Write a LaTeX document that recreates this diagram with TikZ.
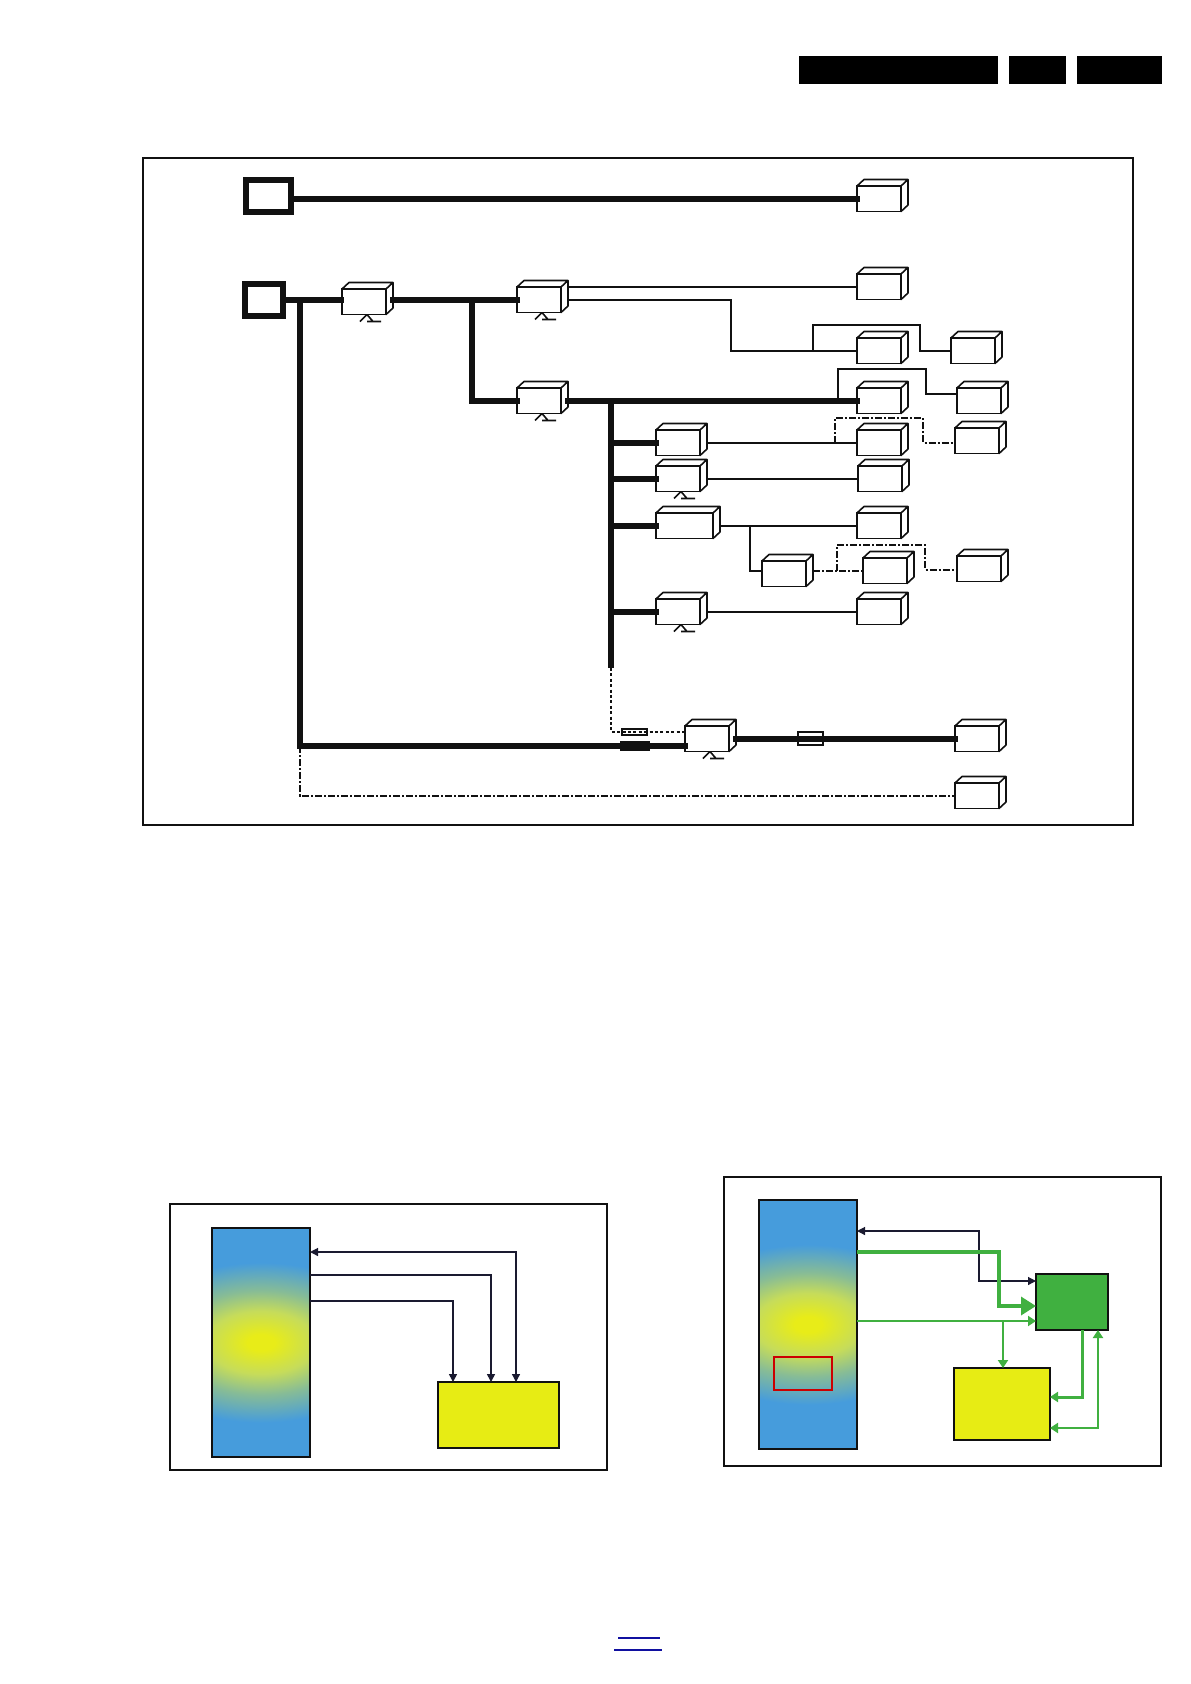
\documentclass[tikz,border=0pt]{standalone}
\usepackage{amsmath}
\usepackage{amssymb}
\usetikzlibrary{arrows.meta,positioning,shapes.geometric}
\definecolor{inkblk}{HTML}{111111}
\definecolor{barblue}{RGB}{70,156,220}
\definecolor{barcore}{RGB}{232,236,24}
\definecolor{barinner}{RGB}{198,220,90}
\definecolor{barouter}{RGB}{135,188,150}
\definecolor{padyellow}{RGB}{231,236,20}
\definecolor{padgreen}{RGB}{64,176,64}
\definecolor{navyline}{RGB}{26,26,48}
\definecolor{linkblue}{RGB}{16,16,160}
\pgfdeclareradialshading{barglow}{\pgfpoint{0bp}{0bp}}{%
  color(0bp)=(barcore);
  color(1.6bp)=(barcore);
  color(6.3bp)=(barinner);
  color(10.4bp)=(barouter);
  color(16bp)=(barblue);
  color(50bp)=(barblue)}
\begin{document}
\begin{tikzpicture}[
    x=1pt, y=-1pt,
    panel/.style={rectangle, draw=inkblk, line width=1.7pt, inner sep=0pt, outer sep=0pt, anchor=north west},
    cube/.style={rectangle, draw=inkblk, fill=white, line width=1.6pt, inner sep=0pt, outer sep=0pt, anchor=north west, minimum width=44pt, minimum height=25.5pt,
      append after command={\pgfextra{\draw[draw=inkblk, fill=white, line width=1.6pt, line join=round]
        (\tikzlastnode.north west) -- ([shift={(7pt,6.5pt)}]\tikzlastnode.north west) -- ([shift={(7pt,6.5pt)}]\tikzlastnode.north east)
        -- ([shift={(7pt,6.5pt)}]\tikzlastnode.south east) -- (\tikzlastnode.south east) -- (\tikzlastnode.north east) -- cycle
        (\tikzlastnode.north east) -- ([shift={(7pt,6.5pt)}]\tikzlastnode.north east);}}},
    tuner/.style={cube,
      append after command={\pgfextra{\draw[draw=inkblk, line width=1.6pt]
        ([shift={(18pt,-7pt)}]\tikzlastnode.south west) -- ([xshift=25pt]\tikzlastnode.south west) -- ([shift={(31pt,-7pt)}]\tikzlastnode.south west)
        ([shift={(25pt,-7pt)}]\tikzlastnode.south west) -- ([shift={(39pt,-7pt)}]\tikzlastnode.south west);}}},
    srcbox/.style={rectangle, draw=inkblk, fill=white, line width=6pt, inner sep=0pt, outer sep=0pt, anchor=north west},
    clipbox/.style={rectangle, draw=inkblk, line width=1.4pt, inner sep=0pt, outer sep=0pt},
    hdr/.style={rectangle, fill=black, inner sep=0pt, outer sep=0pt, anchor=north west, minimum height=28pt},
    bar/.style={rectangle, draw=inkblk, line width=2.6pt, fill=barblue, inner sep=0pt, outer sep=0pt, anchor=north west, minimum width=98pt,
      path picture={\shade[shading=barglow] (path picture bounding box.center) ellipse [x radius=215, y radius=125];}},
    pad/.style={rectangle, draw=inkblk, line width=2pt, inner sep=0pt, outer sep=0pt, anchor=north west},
    bus/.style={draw=inkblk, line width=5.8pt},
    wire/.style={draw=inkblk, line width=1.6pt},
    dashwire/.style={draw=inkblk, line width=1.5pt, dash pattern=on 7pt off 2pt on 2pt off 2pt},
    dotwire/.style={draw=inkblk, line width=1.4pt, dash pattern=on 3pt off 2.4pt},
    blacksig/.style={draw=navyline, line width=1.6pt},
    greensig/.style={draw=padgreen, line width=2.2pt},
    tip/.style={-{Triangle[length=8pt, width=8pt]}},
    twotip/.style={{Triangle[length=8pt, width=8pt]}-{Triangle[length=8pt, width=8pt]}}
]
\useasboundingbox (0,0) rectangle (1191,1684);

\node[hdr, minimum width=199pt] (hdra) at (799,56) {};
\node[hdr, minimum width=57pt] (hdrb) at (1009,56) {};
\node[hdr, minimum width=85pt] (hdrc) at (1077,56) {};

\node[panel, minimum width=990pt, minimum height=667pt] (frametop) at (143,158) {};
\node[srcbox, minimum width=45pt, minimum height=32pt] (srca) at (246,180) {};
\node[srcbox, minimum width=38pt, minimum height=32pt] (srcb) at (245,284) {};
\node[tuner] (tuna) at (342,289) {};
\node[tuner] (tunb) at (517,287) {};
\node[tuner] (tunc) at (517,388) {};
\node[tuner] (tund) at (685,726) {};
\node[cube] (enda) at (857,186) {};
\node[cube] (endb) at (857,274) {};
\node[cube] (endc) at (857,338) {};
\node[cube] (endd) at (951,338) {};
\node[cube] (ende) at (857,388) {};
\node[cube] (endf) at (957,388) {};
\node[cube] (endg) at (857,430) {};
\node[cube] (endh) at (955,428) {};
\node[cube] (suba) at (656,430) {};
\node[tuner] (subb) at (656,466) {};
\node[cube] (endj) at (858,466) {};
\node[cube, minimum width=57pt] (subc) at (656,513) {};
\node[cube] (endk) at (857,513) {};
\node[cube] (midl) at (762,561) {};
\node[cube] (midm) at (863,558) {};
\node[cube] (endn) at (957,556) {};
\node[tuner] (subd) at (656,599) {};
\node[cube] (endp) at (857,599) {};
\node[cube] (endq) at (955,726) {};
\node[cube] (endr) at (955,783) {};

\coordinate (jroot) at (300,300);
\coordinate (mainbase) at (300,746);
\coordinate (jb) at (472,299.75);
\coordinate (bustop) at (611,400.75);
\coordinate (busbase) at (611,668);
\coordinate (bendc) at (731,350.75);
\coordinate (jc) at (813,350.75);
\coordinate (railc) at (920,325);
\coordinate (jd) at (838,400.75);
\coordinate (raild) at (926,369);
\coordinate (je) at (835,442.75);
\coordinate (raile) at (923,418);
\coordinate (jf) at (750,525.75);
\coordinate (jg) at (837,570.75);
\coordinate (railg) at (925,545);

\draw[bus] (srca.east |- enda.west) -- ([xshift=3pt]enda.west);
\draw[bus] (srcb.east) -- ([xshift=2pt]tuna.west |- srcb.east);
\draw[bus] (jroot) -- (mainbase) -- ([xshift=3pt]tund.west |- mainbase);
\draw[bus] ([xshift=4pt]tuna.east |- jb) -- ([xshift=3pt]tunb.west);
\draw[bus] (jb) |- ([xshift=3pt]tunc.west);
\draw[bus] ([xshift=4pt]tunc.east) -- ([xshift=3pt]ende.west);
\draw[bus] (bustop) -- (busbase);
\draw[bus] (bustop |- suba.west) -- ([xshift=3pt]suba.west);
\draw[bus] (bustop |- subb.west) -- ([xshift=3pt]subb.west);
\draw[bus] (bustop |- subc.west) -- ([xshift=3pt]subc.west);
\draw[bus] (bustop |- subd.west) -- ([xshift=3pt]subd.west);
\draw[bus] ([xshift=4pt]tund.east) -- ([xshift=3pt]endq.west);

\draw[wire] ([xshift=7pt]tunb.east |- endb.west) -- (endb.west);
\draw[wire] ([xshift=7pt]tunb.east) -| (bendc) -- (endc.west);
\draw[wire] (jc) |- (railc) |- (endd.west);
\draw[wire] (jd) |- (raild) |- ([yshift=6.75pt]endf.west);
\draw[wire] ([xshift=7pt]suba.east) -- (endg.west);
\draw[wire] ([xshift=7pt]subb.east) -- (endj.west);
\draw[wire] ([xshift=7pt]subc.east) -- (endk.west);
\draw[wire] (jf) |- ([yshift=2.5pt]midl.west);
\draw[wire] ([xshift=7pt]subd.east) -- (endp.west);
\draw[dashwire] (je) |- (raile) |- ([yshift=-2pt]endh.west);
\draw[dashwire] ([xshift=7pt]midl.east |- midm.west) -- (midm.west);
\draw[dashwire] (jg) |- (railg) |- ([yshift=-1pt]endn.west);
\draw[dashwire] (mainbase) |- (endr.west);

\node[clipbox, minimum width=25pt, minimum height=6pt] (clipa) at (634.5,732) {};
\node[clipbox, fill=inkblk, minimum width=28pt, minimum height=8pt] (clipb) at (635,746) {};
\node[clipbox, minimum width=25pt, minimum height=13pt] (clipc) at (810.5,738.5) {};
\draw[dotwire] (busbase) |- (clipa.center) -- (tund.west |- clipa.center);

\node[panel, minimum width=437pt, minimum height=266pt] (frameleft) at (170,1204) {};
\node[bar, minimum height=229pt] (barl) at (212,1228) {};
\node[pad, fill=padyellow, minimum width=121pt, minimum height=66pt] (pada) at (438,1382) {};
\coordinate (feeda) at (516,1252);
\coordinate (feedb) at (491,1275);
\coordinate (feedc) at (453,1301);
\draw[blacksig, line width=1.2pt, twotip] (barl.east |- feeda) -| (feeda |- pada.north);
\draw[blacksig, tip] (barl.east |- feedb) -| (feedb |- pada.north);
\draw[blacksig, tip] (barl.east |- feedc) -| (feedc |- pada.north);

\node[panel, line width=2pt, minimum width=437pt, minimum height=289pt] (frameright) at (724,1177) {};
\node[bar, minimum height=249pt] (barr) at (759,1200) {};
\node[rectangle, draw=red!80!black, line width=1.6pt, inner sep=0pt, anchor=north west, minimum width=58pt, minimum height=33pt] (redbox) at (773,1356) {};
\node[pad, fill=padgreen, minimum width=72pt, minimum height=56pt] (padc) at (1036,1274) {};
\node[pad, fill=padyellow, minimum width=96pt, minimum height=72pt] (padb) at (954,1368) {};
\coordinate (swa) at (979,1231);
\coordinate (swb) at (979,1281);
\coordinate (grna) at (999,1252);
\coordinate (grnb) at (999,1306);
\coordinate (grnc) at (1003,1321);
\coordinate (grnd) at (1082,1397);
\coordinate (grne) at (1098,1428);
\draw[blacksig, line width=1.2pt, twotip] (barr.east |- swa) -- (swa) -- (swb) -- (padc.west |- swb);
\draw[greensig, line width=3.4pt, -{Triangle[length=15pt, width=18pt]}] (barr.east |- grna) -- (grna) -- (grnb) -- (padc.west |- grnb);
\draw[greensig, -{Triangle[length=8pt, width=10pt]}] (barr.east |- grnc) -- (padc.west |- grnc);
\draw[greensig, -{Triangle[length=8pt, width=10pt]}] (grnc) -- (grnc |- padb.north);
\draw[greensig, line width=3pt, -{Triangle[length=8pt, width=10pt]}] (grnd |- padc.south) -- (grnd) -- (padb.east |- grnd);
\draw[greensig, {Triangle[length=8pt, width=10pt]}-{Triangle[length=8pt, width=10pt]}] (grne |- padc.south) -- (grne) -- (padb.east |- grne);

\coordinate (linka) at (618,1638);
\coordinate (linkb) at (660,1638);
\coordinate (linkc) at (614,1650);
\coordinate (linkd) at (662,1650);
\draw[linkblue, line width=1.2pt] (linka) -- (linkb);
\draw[linkblue, line width=1.2pt] (linkc) -- (linkd);
\end{tikzpicture}
\end{document}
